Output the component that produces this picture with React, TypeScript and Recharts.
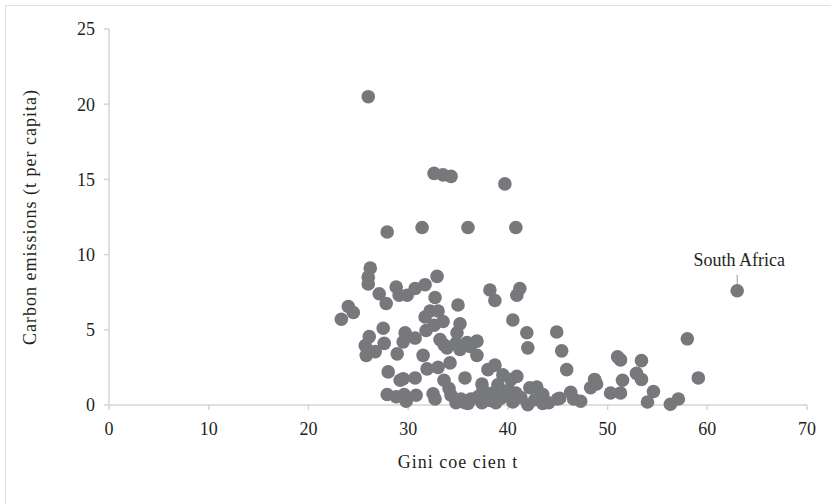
import React from 'react';
import { ScatterChart, Scatter, XAxis, YAxis } from 'recharts';

const giniValues: number[] = [
  26.0, 32.6, 33.5, 34.3, 39.7, 27.9, 31.4, 36.0, 40.8,
  26.2, 26.0, 26.0, 32.9, 27.1, 27.8, 28.8, 29.1, 29.9, 30.7, 31.7, 32.7, 38.2, 38.7, 40.9, 41.2,
  24.0, 24.5, 23.3, 35.0, 40.5, 41.9, 42.0, 44.9, 45.4, 45.9, 58.0, 59.1, 51.0, 51.3, 53.4, 52.9,
  53.4, 51.5, 48.7, 48.3, 48.9, 50.3, 51.3, 54.6, 54.0, 56.3, 57.1, 46.3, 47.3, 46.6, 45.0, 44.1,
  25.7, 25.8, 26.7, 26.1, 27.5, 27.6, 28.9, 29.5, 29.7, 30.7, 31.5, 31.8, 31.7, 32.2, 32.6, 33.0,
  33.5, 33.2, 33.6, 35.2, 34.9, 34.8, 35.2, 35.9, 36.9, 36.9, 34.2, 31.9, 33.0, 33.6, 35.7, 28.0,
  29.2, 29.5, 30.7, 27.9, 28.8, 29.8, 29.6, 30.8, 32.5, 32.7, 34.1, 34.3, 34.8, 35.7, 37.4, 37.4,
  38.0, 38.7, 38.5, 39.0, 39.5, 38.8, 39.3, 40.3, 40.9, 40.5, 40.8, 42.2, 42.0, 42.9, 42.7, 43.5,
  43.5, 36.3, 37.6, 37.0, 40.1, 45.2, 33.9, 36.2, 37.5, 38.2, 39.8, 41.3, 36.0, 35.3,
];

const emissionValues: number[] = [
  20.5, 15.4, 15.3, 15.2, 14.7, 11.5, 11.8, 11.8, 11.8,
  9.1, 8.5, 8.05, 8.55, 7.4, 6.75, 7.85, 7.3, 7.3, 7.75, 8.0, 7.15, 7.65, 6.95, 7.3, 7.75,
  6.55, 6.15, 5.7, 6.65, 5.65, 4.8, 3.8, 4.85, 3.6, 2.35, 4.4, 1.8, 3.2, 3.0, 2.95, 2.1,
  1.7, 1.65, 1.7, 1.15, 1.4, 0.8, 0.8, 0.9, 0.2, 0.05, 0.4, 0.85, 0.25, 0.4, 0.4, 0.15,
  3.95, 3.3, 3.55, 4.55, 5.1, 4.1, 3.4, 4.2, 4.8, 4.45, 3.3, 4.95, 5.85, 6.25, 5.3, 6.25,
  5.55, 4.35, 4.0, 5.4, 4.8, 4.1, 3.7, 4.15, 4.25, 3.3, 2.8, 2.4, 2.5, 1.65, 1.8, 2.2,
  1.65, 1.75, 1.8, 0.7, 0.55, 0.25, 0.7, 0.65, 0.75, 0.4, 1.1, 0.65, 0.15, 0.15, 0.15, 1.4,
  2.35, 2.65, 0.8, 1.35, 2.0, 0.15, 0.45, 1.7, 1.9, 0.2, 0.8, 1.15, 0.02, 1.2, 0.35, 0.7,
  0.1, 0.4, 0.8, 0.55, 1.0, 0.45, 3.8, 3.9, 1.0, 0.3, 0.8, 0.5, 0.1, 0.4,
];

const highlightName = 'South Africa';
const highlightGini = 63.0;
const highlightEmission = 7.6;

const xTicks = [0, 10, 20, 30, 40, 50, 60, 70];
const yTicks = [0, 5, 10, 15, 20, 25];

const xTitle = 'Gini coe  cien t';
const yTitle = 'Carbon emissions (t per capita)';

const countries = giniValues.map((g, i) => ({ gini: g, co2: emissionValues[i] }));
const highlight = [{ gini: highlightGini, co2: highlightEmission, name: highlightName }];

const DOT = '#77787b';
const TEXT = '#231f20';
const AXIS = '#d4d4d4';
const FONT = '"Liberation Serif", "DejaVu Serif", serif';

const Dot = (props: any) => <circle cx={props.cx} cy={props.cy} r={6.8} fill={DOT} />;

const LabeledDot = (props: any) => (
  <g>
    <line x1={props.cx} x2={props.cx} y1={props.cy - 16} y2={props.cy - 2} stroke="#9a9a9a" strokeWidth={1} />
    <circle cx={props.cx} cy={props.cy} r={6.8} fill={DOT} />
    <text x={props.cx + 2} y={props.cy - 25} textAnchor="middle" fontFamily={FONT} fontSize={18} fill={TEXT}>
      {props.payload.name}
    </text>
  </g>
);

const YTitle = (props: any) => {
  const vb = props.viewBox;
  const x = vb.x + 30;
  const y = vb.y + vb.height / 2;
  return (
    <text x={x} y={y} transform={`rotate(-90, ${x}, ${y})`} textAnchor="middle" dominantBaseline="central"
      fontFamily={FONT} fontSize={18} letterSpacing={1} fill={TEXT}>
      {yTitle}
    </text>
  );
};

const XTitle = (props: any) => {
  const vb = props.viewBox;
  const x = vb.x + vb.width / 2;
  const y = vb.y + 63;
  return (
    <text x={x} y={y} textAnchor="middle" fontFamily={FONT} fontSize={18} letterSpacing={1} fill={TEXT}>
      {xTitle}
    </text>
  );
};

export default function App() {
  return (
    <div style={{ position: 'absolute', left: 0, top: 0, width: 831, height: 504, background: '#fff', overflow: 'hidden' }}>
      <div style={{ position: 'absolute', left: 5, top: 5, width: 900, height: 600, borderLeft: '1px solid #e0e0e0', borderTop: '1px solid #e0e0e0' }} />
      <ScatterChart width={831} height={504} margin={{ top: 29, right: 24, bottom: 0, left: 0 }} style={{ position: 'absolute', left: 0, top: 0 }}>
        <XAxis
          type="number"
          dataKey="gini"
          domain={[0, 70]}
          ticks={xTicks}
          interval={0}
          height={99}
          axisLine={{ stroke: AXIS, strokeWidth: 1.5 }}
          tickLine={{ stroke: AXIS, strokeWidth: 1.5 }}
          tickSize={5}
          tickMargin={12}
          tick={{ fill: TEXT, fontSize: 18, fontFamily: FONT }}
          label={<XTitle />}
        />
        <YAxis
          type="number"
          dataKey="co2"
          domain={[0, 25]}
          ticks={yTicks}
          interval={0}
          width={109}
          axisLine={{ stroke: AXIS, strokeWidth: 1.5 }}
          tickLine={{ stroke: AXIS, strokeWidth: 1.5 }}
          tickSize={5}
          tickMargin={9}
          tick={{ fill: TEXT, fontSize: 18, fontFamily: FONT }}
          label={<YTitle />}
        />
        <Scatter data={countries} shape={<Dot />} isAnimationActive={false} />
        <Scatter data={highlight} shape={<LabeledDot />} isAnimationActive={false} />
      </ScatterChart>
    </div>
  );
}
